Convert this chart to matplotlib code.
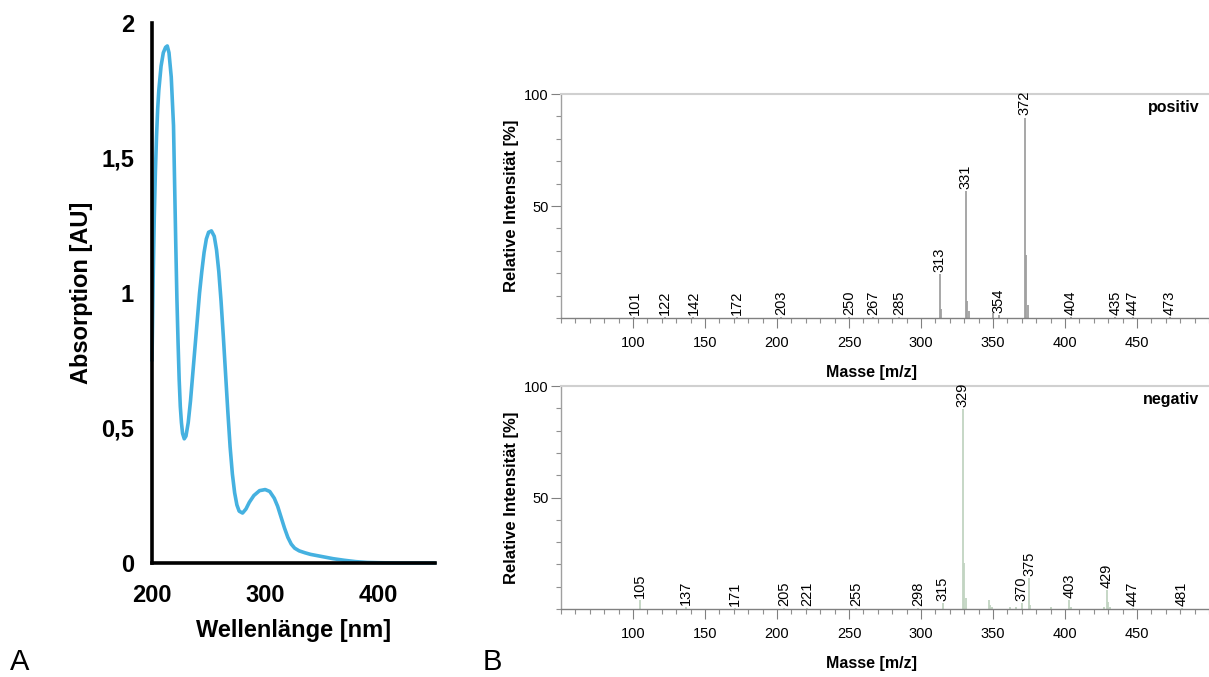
import matplotlib
matplotlib.use("Agg")
import matplotlib.pyplot as plt
from matplotlib.ticker import MultipleLocator

# ---------------- data ----------------
# Panel A: UV spectrum
wavelength = [200, 201, 202, 203, 204, 205, 206, 208, 210, 212, 213.5, 215, 217, 219,
              220, 221, 222, 223, 224, 225, 226, 227, 228.5, 230, 232, 234, 236, 238,
              240, 242, 244, 246, 248, 250, 252.5, 255, 257, 259, 261, 263, 265, 267,
              269, 271, 273, 275, 277, 280, 283, 286, 290, 295, 300, 304, 308, 311,
              314, 317, 320, 323, 326, 330, 335, 340, 350, 360, 370, 380, 390, 400,
              420, 450]
absorption = [0.75, 1.05, 1.28, 1.45, 1.58, 1.68, 1.75, 1.84, 1.89, 1.91, 1.915, 1.89,
              1.80, 1.62, 1.40, 1.18, 0.98, 0.82, 0.68, 0.58, 0.52, 0.48, 0.46, 0.47,
              0.52, 0.60, 0.70, 0.80, 0.90, 1.00, 1.08, 1.15, 1.20, 1.225, 1.23, 1.21,
              1.16, 1.08, 0.97, 0.84, 0.70, 0.56, 0.43, 0.33, 0.26, 0.215, 0.192, 0.185,
              0.20, 0.225, 0.25, 0.268, 0.272, 0.265, 0.24, 0.21, 0.17, 0.13, 0.095,
              0.07, 0.055, 0.045, 0.038, 0.032, 0.024, 0.016, 0.010, 0.005, 0.002,
              0.001, 0.0, 0.0]
a_xticks = [200, 300, 400]
a_yticks = [0, 0.5, 1, 1.5, 2]
a_yticklabels = ["0", "0,5", "1", "1,5", "2"]

# Panel B: mass spectra
pos_mz = [101, 122, 142, 172, 203, 250, 267, 285, 313, 314, 331, 332, 333, 350, 354,
          372, 373, 374, 404, 435, 447, 473]
pos_int = [0.6, 0.6, 0.6, 0.6, 0.6, 0.6, 0.6, 0.6, 19.5, 3.8, 56.5, 7.5, 3, 2.2, 1.5,
           89.5, 28, 6, 0.6, 0.6, 0.6, 0.6]
pos_labels = [101, 122, 142, 172, 203, 250, 267, 285, 313, 331, 354, 372, 404, 435, 447, 473]

neg_mz = [105, 137, 171, 205, 221, 255, 298, 315, 329, 330, 331, 347, 348, 349, 362,
          366, 370, 375, 376, 390, 403, 404, 427, 429, 430, 431, 447, 481]
neg_int = [4, 1, 0.5, 0.5, 0.5, 0.5, 0.5, 2.5, 89.5, 20.5, 5, 4, 2, 1, 0.8,
           0.8, 2.5, 14, 2, 0.8, 4, 1, 1, 8.5, 3, 1, 0.5, 0.5]
neg_labels = [105, 137, 171, 205, 221, 255, 298, 315, 329, 370, 375, 403, 429, 447, 481]

b_xticks = [100, 150, 200, 250, 300, 350, 400, 450]
b_yticks = [50, 100]

# ---------------- figure ----------------
W, H = 1209, 677
fig = plt.figure(figsize=(W / 100, H / 100), dpi=100)
plt.rcParams['font.family'] = ['Liberation Sans', 'DejaVu Sans']

def ax_rect(l, t, r, b):
    return [l / W, 1 - b / H, (r - l) / W, (b - t) / H]

# ---- Panel A ----
axA = fig.add_axes(ax_rect(152, 23, 435, 563))
axA.plot(wavelength, absorption, color="#45B1E0", lw=2.6, solid_joinstyle="round",
         solid_capstyle="round", clip_on=False)
axA.set_xlim(200, 450)
axA.set_ylim(0, 2)
for s in ["top", "right"]:
    axA.spines[s].set_visible(False)
for s in ["left", "bottom"]:
    axA.spines[s].set_linewidth(2.6)
    axA.spines[s].set_color("black")
axA.set_xticks(a_xticks)
axA.set_yticks(a_yticks)
axA.set_yticklabels(a_yticklabels)
axA.tick_params(length=0, labelsize=17)
axA.tick_params(axis="x", pad=15)
axA.tick_params(axis="y", pad=13)
for lab in axA.get_xticklabels() + axA.get_yticklabels():
    lab.set_fontweight("bold")
axA.set_xlabel("Wellenlänge [nm]", fontsize=17, fontweight="bold", labelpad=9)
axA.set_ylabel("Absorption [AU]", fontsize=17, fontweight="bold", labelpad=6)
fig.text(10 / W, 1 - 662 / H, "A", fontsize=21, va="center", ha="left")
fig.text(483 / W, 1 - 662 / H, "B", fontsize=21, va="center", ha="left")

# ---- Panel B ----
narrow = ['Liberation Sans Narrow', 'Liberation Sans', 'DejaVu Sans']

def ms_axes(rect, mz, inten, labels, color, tag):
    ax = fig.add_axes(rect)
    ax.vlines(mz, 0, inten, color=color, lw=1.3)
    ax.set_xlim(50, 500)
    ax.set_ylim(0, 100)
    ax.spines["right"].set_visible(False)
    ax.spines["top"].set_color("#d0d0d0")
    ax.spines["top"].set_linewidth(1.5)
    ax.spines["left"].set_color("#a0a0a0")
    ax.spines["bottom"].set_color("#808080")
    ax.spines["left"].set_linewidth(1.0)
    ax.spines["bottom"].set_linewidth(1.0)
    ax.set_xticks(b_xticks)
    ax.xaxis.set_minor_locator(MultipleLocator(10))
    ax.set_yticks(b_yticks)
    ax.yaxis.set_minor_locator(MultipleLocator(10))
    ax.tick_params(which="major", length=7, width=0.8, color="#808080", labelsize=10.5, pad=6)
    ax.tick_params(which="minor", length=3.5, width=0.8, color="#909090")
    ax.tick_params(axis="y", which="major", pad=2)
    for lab in ax.get_xticklabels() + ax.get_yticklabels():
        lab.set_family(narrow)
    lookup = dict(zip(mz, inten))
    for m in labels:
        ax.annotate(str(m), xy=(m, lookup[m]), xytext=(0, 1.5), textcoords="offset points",
                    rotation=90, ha="center", va="bottom", fontsize=10.5)
    ax.set_xlabel("Masse [m/z]", fontsize=11.5, fontweight="bold", family=narrow)
    ax.xaxis.set_label_coords((872 - 561) / (W - 561), -0.21)
    ax.set_ylabel("Relative Intensität [%]", fontsize=12, fontweight="bold")
    ax.yaxis.set_label_coords(-(561 - 519) / (W - 561), 0.5)
    ax.text(0.985, 0.94, tag, transform=ax.transAxes, ha="right", va="center",
            fontsize=11.5, fontweight="bold", family=narrow)
    return ax

ms_axes(ax_rect(561, 94, W, 318), pos_mz, pos_int, pos_labels, "#a0a0a0", "positiv")
ms_axes(ax_rect(561, 386, W, 609), neg_mz, neg_int, neg_labels, "#c2d4c2", "negativ")

fig.savefig("out.png", dpi=100, facecolor="white")
